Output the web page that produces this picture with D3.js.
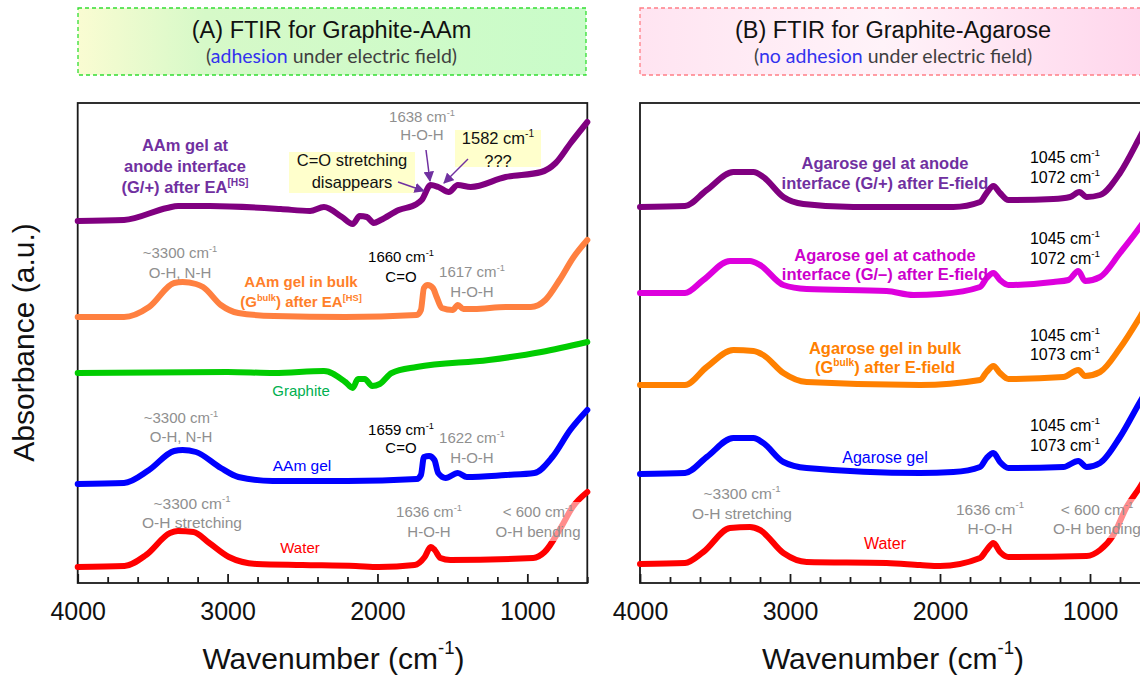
<!DOCTYPE html>
<html>
<head>
<meta charset="utf-8">
<script src="https://cdn.jsdelivr.net/npm/d3@7"></script>
<style>
  html, body { margin: 0; padding: 0; background: #fff; overflow: hidden; }
  svg { display: block; }
</style>
</head>
<body>
<svg id="chart" width="1160" height="678"></svg>
<script>
// ---------- spectra: [wavenumber (cm^-1), stacked absorbance (a.u.)] ----------
// Panel A: graphite / polyacrylamide
const waterA = [[4000,0.16],[3688,0.17],[3544,0.28],[3384,0.50],[3331,0.52],[3227,0.51],[3122,0.40],[2991,0.26],[2805,0.19],[2500,0.18],[2145,0.17],[1991,0.16],[1752,0.18],[1685,0.26],[1645,0.36],[1618,0.33],[1580,0.25],[1514,0.23],[961,0.25],[885,0.31],[778,0.55],[698,0.76],[600,0.91]];
const aamGel = [[4000,0.99],[3691,1.00],[3524,1.13],[3357,1.32],[3300,1.33],[3211,1.31],[3045,1.15],[2928,1.06],[2700,1.02],[2200,1.02],[1738,1.04],[1710,1.08],[1690,1.26],[1655,1.27],[1620,1.23],[1595,1.10],[1545,1.05],[1464,1.10],[1404,1.06],[1144,1.08],[953,1.10],[833,1.26],[714,1.53],[600,1.73]];
const graphite = [[4000,2.10],[3000,2.11],[2690,2.10],[2357,2.12],[2214,2.01],[2165,1.95],[2130,2.04],[2085,2.04],[2035,1.97],[1985,1.99],[1905,2.10],[1738,2.16],[1258,2.23],[907,2.31],[600,2.41]];
const aamBulk = [[4000,2.66],[3691,2.66],[3524,2.76],[3357,3.00],[3300,3.01],[3211,2.99],[3164,2.96],[3045,2.78],[2928,2.70],[2690,2.67],[2214,2.66],[1738,2.68],[1710,2.73],[1690,2.95],[1665,2.98],[1630,2.95],[1605,2.86],[1571,2.75],[1498,2.73],[1464,2.78],[1427,2.74],[1357,2.74],[1144,2.76],[977,2.76],[880,2.83],[785,3.03],[691,3.26],[600,3.43]];
const aamAnode = [[4000,3.62],[3691,3.63],[3404,3.75],[3330,3.77],[3117,3.77],[2645,3.74],[2450,3.72],[2357,3.76],[2237,3.66],[2165,3.59],[2118,3.67],[2071,3.66],[2025,3.60],[1978,3.63],[1858,3.73],[1738,3.79],[1705,3.83],[1645,3.98],[1594,3.96],[1524,3.91],[1464,3.98],[1378,3.96],[1145,4.06],[907,4.11],[811,4.20],[711,4.40],[600,4.61]];

// Panel B: graphite / agarose
const waterB = [[4000,0.19],[3700,0.20],[3578,0.31],[3400,0.55],[3267,0.56],[3200,0.53],[3044,0.30],[2889,0.21],[2356,0.20],[2133,0.18],[2000,0.17],[1733,0.25],[1689,0.33],[1644,0.40],[1600,0.31],[1544,0.26],[1022,0.27],[933,0.33],[844,0.48],[756,0.76],[667,0.96],[600,1.13]];
const agaroseGel = [[4000,1.09],[3700,1.10],[3555,1.26],[3378,1.45],[3244,1.45],[3178,1.40],[3044,1.21],[2889,1.15],[2133,1.10],[1911,1.11],[1733,1.16],[1689,1.25],[1644,1.30],[1600,1.21],[1544,1.15],[1178,1.16],[1078,1.22],[1022,1.16],[933,1.20],[800,1.46],[667,1.81],[600,1.98]];
const agaroseBulk = [[4000,1.98],[3700,1.98],[3555,2.16],[3378,2.33],[3244,2.32],[3178,2.28],[3044,2.10],[2889,2.01],[2133,1.98],[1733,2.03],[1689,2.11],[1644,2.17],[1600,2.10],[1544,2.04],[1178,2.06],[1078,2.13],[1033,2.07],[933,2.11],[800,2.35],[667,2.66],[600,2.83]];
const agaroseCathode = [[4000,2.90],[3700,2.90],[3578,3.03],[3400,3.22],[3267,3.22],[3200,3.18],[3044,2.98],[2889,2.94],[2356,2.92],[2178,2.88],[2000,2.89],[1733,2.96],[1689,3.05],[1644,3.10],[1600,3.03],[1544,2.98],[1244,3.01],[1144,3.03],[1078,3.12],[1033,3.02],[933,3.06],[800,3.30],[667,3.56],[600,3.71]];
const agaroseAnode = [[4000,3.76],[3700,3.77],[3555,3.93],[3378,4.11],[3244,4.11],[3178,4.06],[3044,3.86],[2911,3.79],[2578,3.76],[1911,3.76],[1733,3.81],[1689,3.90],[1644,3.97],[1600,3.90],[1544,3.83],[1244,3.84],[1133,3.86],[1071,3.91],[1022,3.86],[933,3.88],[800,4.10],[667,4.46],[600,4.65]];

// axis ticks
const majorTicks = [4000, 3000, 2000, 1000];
const minorTicks = [3800, 3600, 3400, 3200, 2800, 2600, 2400, 2200, 1800, 1600, 1400, 1200, 800, 600];

// series drawing order and colours
const seriesA = [
  { data: aamAnode, color: "#800080" },
  { data: aamBulk,  color: "#ff8040" },
  { data: graphite, color: "#00cc00" },
  { data: aamGel,   color: "#0000ff" },
  { data: waterA,   color: "#ff0000" }
];
const seriesB = [
  { data: agaroseAnode,   color: "#800080" },
  { data: agaroseCathode, color: "#dd00dd" },
  { data: agaroseBulk,    color: "#ff8000" },
  { data: agaroseGel,     color: "#0000ff" },
  { data: waterB,         color: "#ff0000" }
];

// ---------- layout ----------
const svg = d3.select("#chart");
const SANS = "'Liberation Sans', Arial, Helvetica, sans-serif";
const plotTop = 103, plotBottom = 583;
const panels = [
  { left: 77.7, right: 587.3, series: seriesA },
  { left: 640,  right: 1150,  series: seriesB }
];

const y = d3.scaleLinear().domain([0, 4.8]).range([plotBottom, plotTop]);

// text with ^{...} superscripts
function richText(g, x, yBase, str, o) {
  const size = o.size;
  const t = g.append("text")
    .attr("x", x).attr("y", yBase)
    .attr("text-anchor", o.anchor || "middle")
    .style("font-family", o.family || SANS)
    .style("font-size", size + "px")
    .style("font-weight", o.weight || "normal")
    .attr("fill", o.color || "#000");
  const parts = str.split(/(\^\{[^}]*\})/).filter(s => s.length);
  let raised = false;
  const shift = o.supShift || 0.42;
  parts.forEach(p => {
    if (p.startsWith("^{")) {
      t.append("tspan").attr("dy", -shift * size)
        .style("font-size", (size * 0.62) + "px").text(p.slice(2, -1));
      raised = true;
    } else {
      const ts = t.append("tspan").text(p);
      if (raised) { ts.attr("dy", shift * size); raised = false; }
    }
  });
  return t;
}
// stacked lines, given centre y of each line
function label(g, x, centers, lines, o) {
  lines.forEach((s, i) => richText(g, x, centers[i] + 0.36 * o.size, s, o));
}

// ---------- title boxes ----------
const defs = svg.append("defs");
const gA = defs.append("linearGradient").attr("id", "boxA").attr("x1", 0).attr("x2", 1).attr("y1", 0).attr("y2", 0);
gA.append("stop").attr("offset", 0).attr("stop-color", "#fafcd2");
gA.append("stop").attr("offset", 0.25).attr("stop-color", "#d6f9c8");
gA.append("stop").attr("offset", 1).attr("stop-color", "#c9fcc9");
const gB = defs.append("linearGradient").attr("id", "boxB").attr("x1", 0).attr("x2", 1).attr("y1", 0).attr("y2", 0);
gB.append("stop").attr("offset", 0).attr("stop-color", "#ffe4f1");
gB.append("stop").attr("offset", 0.45).attr("stop-color", "#fff3f9");
gB.append("stop").attr("offset", 1).attr("stop-color", "#ffd2ea");

defs.append("marker").attr("id", "arrowP")
  .attr("viewBox", "0 0 10 10").attr("refX", 9).attr("refY", 5)
  .attr("markerWidth", 7).attr("markerHeight", 7).attr("orient", "auto")
  .append("path").attr("d", "M0,0 L10,5 L0,10 z").attr("fill", "#7030a0");

svg.append("rect").attr("x", 78).attr("y", 8).attr("width", 508).attr("height", 67)
  .attr("fill", "url(#boxA)").attr("stroke", "#33dd33").attr("stroke-width", 1.3).attr("stroke-dasharray", "4 3");
svg.append("rect").attr("x", 640).attr("y", 8).attr("width", 540).attr("height", 67)
  .attr("fill", "url(#boxB)").attr("stroke", "#ff7f86").attr("stroke-width", 1.3).attr("stroke-dasharray", "4 3");

const titles = svg.append("g");
richText(titles, 331.5, 38, "(A) FTIR for Graphite-AAm", { size: 23.5, color: "#111" });
richText(titles, 893, 38, "(B) FTIR for Graphite-Agarose", { size: 23.5, color: "#111" });
const subA = titles.append("text").attr("x", 331.5).attr("y", 63).attr("text-anchor", "middle")
  .style("font-family", "Lato, 'Open Sans', sans-serif").style("font-size", "19.5px").attr("fill", "#404040");
subA.append("tspan").text("(");
subA.append("tspan").attr("fill", "#3333ee").text("adhesion");
subA.append("tspan").text(" under electric field)");
const subB = titles.append("text").attr("x", 893).attr("y", 63).attr("text-anchor", "middle")
  .style("font-family", "Lato, 'Open Sans', sans-serif").style("font-size", "19.5px").attr("fill", "#404040");
subB.append("tspan").text("(");
subB.append("tspan").attr("fill", "#3333ee").text("no adhesion");
subB.append("tspan").text(" under electric field)");

// ---------- panels ----------
panels.forEach((p, i) => {
  p.x = d3.scaleLinear().domain([4000, 600]).range([p.left, p.right]);
  const g = svg.append("g");
  p.g = g;

  // frame
  g.append("rect").attr("x", p.left).attr("y", plotTop)
    .attr("width", p.right - p.left).attr("height", plotBottom - plotTop)
    .attr("fill", "none").attr("stroke", "#1a1a1a").attr("stroke-width", 1.8);

  // ticks pointing inward
  const major = d3.axisBottom(p.x).tickValues(majorTicks).tickSize(-9).tickPadding(19).tickFormat(d3.format("d"));
  const minor = d3.axisBottom(p.x).tickValues(minorTicks).tickSize(-6).tickFormat("");
  const ax1 = g.append("g").attr("transform", `translate(0,${plotBottom})`).call(major);
  const ax2 = g.append("g").attr("transform", `translate(0,${plotBottom})`).call(minor);
  [ax1, ax2].forEach(a => {
    a.select(".domain").remove();
    a.selectAll("line").attr("stroke", "#1a1a1a").attr("stroke-width", 1.8);
  });
  ax1.selectAll("text").attr("dy", null).attr("y", 37)
    .style("font-family", SANS).style("font-size", "25px").attr("fill", "#111");

  // x-axis title
  richText(g, (p.left + p.right) / 2 + (i === 0 ? 1 : -2), 669, "Wavenumber (cm^{-1})",
    { size: 30, color: "#111", supShift: 0.5 });

  // spectra
  const line = d3.line().x(d => p.x(d[0])).y(d => y(d[1])).curve(d3.curveMonotoneX);
  p.series.forEach(s => {
    g.append("path").datum(s.data).attr("d", line)
      .attr("fill", "none").attr("stroke", s.color).attr("stroke-width", 6)
      .attr("stroke-linecap", "round").attr("stroke-linejoin", "round");
  });
});

// y-axis title
svg.append("text").attr("transform", "translate(34,342.5) rotate(-90)")
  .attr("text-anchor", "middle").style("font-family", SANS).style("font-size", "30px")
  .attr("fill", "#111").text("Absorbance (a.u.)");

// ---------- annotations, panel A ----------
const nA = svg.append("g");
const GRAY = "#8f8f8f";

// yellow note boxes
nA.append("rect").attr("x", 289).attr("y", 152).attr("width", 126).attr("height", 41).attr("fill", "#ffffcc");
nA.append("rect").attr("x", 455).attr("y", 130).attr("width", 86).attr("height", 37).attr("fill", "#ffffcc");

label(nA, 185, [145, 166, 187], ["AAm gel at", "anode interface", "(G/+) after EA^{[HS]}"],
  { size: 16.5, weight: "bold", color: "#7030a0" });
label(nA, 422, [117, 135], ["1638 cm^{-1}", "H-O-H"], { size: 15, color: GRAY });
label(nA, 352, [160, 182], ["C=O stretching", "disappears"], { size: 16.5, color: "#111" });
label(nA, 498, [138, 161], ["1582 cm^{-1}", "???"], { size: 16.5, color: "#111" });

[[426, 150, 430, 181], [468, 159, 444, 183], [398, 182, 424, 191]].forEach(a => {
  nA.append("line").attr("x1", a[0]).attr("y1", a[1]).attr("x2", a[2]).attr("y2", a[3])
    .attr("stroke", "#7030a0").attr("stroke-width", 1.5).attr("marker-end", "url(#arrowP)");
});

label(nA, 180, [253, 273], ["~3300 cm^{-1}", "O-H, N-H"], { size: 15, color: GRAY });
label(nA, 301, [282, 302], ["AAm gel in bulk", "(G^{bulk}) after EA^{[HS]}"], { size: 15, weight: "bold", color: "#ff7f2a" });
label(nA, 401, [257, 277], ["1660 cm^{-1}", "C=O"], { size: 15, color: "#000" });
label(nA, 472, [272, 292], ["1617 cm^{-1}", "H-O-H"], { size: 15, color: GRAY });
label(nA, 301, [391], ["Graphite"], { size: 15, color: "#00b050" });
label(nA, 181, [418, 437], ["~3300 cm^{-1}", "O-H, N-H"], { size: 15, color: GRAY });
label(nA, 401, [430, 448], ["1659 cm^{-1}", "C=O"], { size: 15, color: "#000" });
label(nA, 472, [438, 458], ["1622 cm^{-1}", "H-O-H"], { size: 15, color: GRAY });
label(nA, 302, [465], ["AAm gel"], { size: 15.5, color: "#0000ff" });
label(nA, 192, [503, 522], ["~3300 cm^{-1}", "O-H stretching"], { size: 15.5, color: GRAY });
label(nA, 429, [512, 532], ["1636 cm^{-1}", "H-O-H"], { size: 15, color: GRAY });
nA.append("rect").attr("x", 489).attr("y", 502).attr("width", 97).attr("height", 39)
  .attr("fill", "#fff").attr("fill-opacity", 0.55);
label(nA, 538, [512, 532], ["< 600 cm^{-1}", "O-H bending"], { size: 15, color: GRAY });
label(nA, 300, [548], ["Water"], { size: 15, color: "#ff0000" });

// ---------- annotations, panel B ----------
const nB = svg.append("g");
label(nB, 885, [163, 183], ["Agarose gel at anode", "interface (G/+) after E-field"], { size: 16.5, weight: "bold", color: "#7030a0" });
label(nB, 1065, [157, 177], ["1045 cm^{-1}", "1072 cm^{-1}"], { size: 16, color: "#000" });
label(nB, 885, [255, 274], ["Agarose gel at cathode", "interface (G/\u2013) after E-field"], { size: 16.5, weight: "bold", color: "#cc00cc" });
label(nB, 1065, [238, 258], ["1045 cm^{-1}", "1072 cm^{-1}"], { size: 16, color: "#000" });
label(nB, 885, [348, 367], ["Agarose gel in bulk", "(G^{bulk}) after E-field"], { size: 16.5, weight: "bold", color: "#ff8000" });
label(nB, 1065, [335, 354], ["1045 cm^{-1}", "1073 cm^{-1}"], { size: 16, color: "#000" });
label(nB, 885, [457], ["Agarose gel"], { size: 16, color: "#0000ff" });
label(nB, 1065, [425, 445], ["1045 cm^{-1}", "1073 cm^{-1}"], { size: 16, color: "#000" });
label(nB, 742, [493, 513], ["~3300 cm^{-1}", "O-H stretching"], { size: 15.5, color: GRAY });
label(nB, 990, [509, 528], ["1636 cm^{-1}", "H-O-H"], { size: 15.5, color: GRAY });
nB.append("rect").attr("x", 1045).attr("y", 499).attr("width", 102).attr("height", 39)
  .attr("fill", "#fff").attr("fill-opacity", 0.55);
label(nB, 1097, [509, 528], ["< 600 cm^{-1}", "O-H bending"], { size: 15.5, color: GRAY });
label(nB, 885, [543], ["Water"], { size: 16, color: "#ff0000" });
</script>
</body>
</html>
